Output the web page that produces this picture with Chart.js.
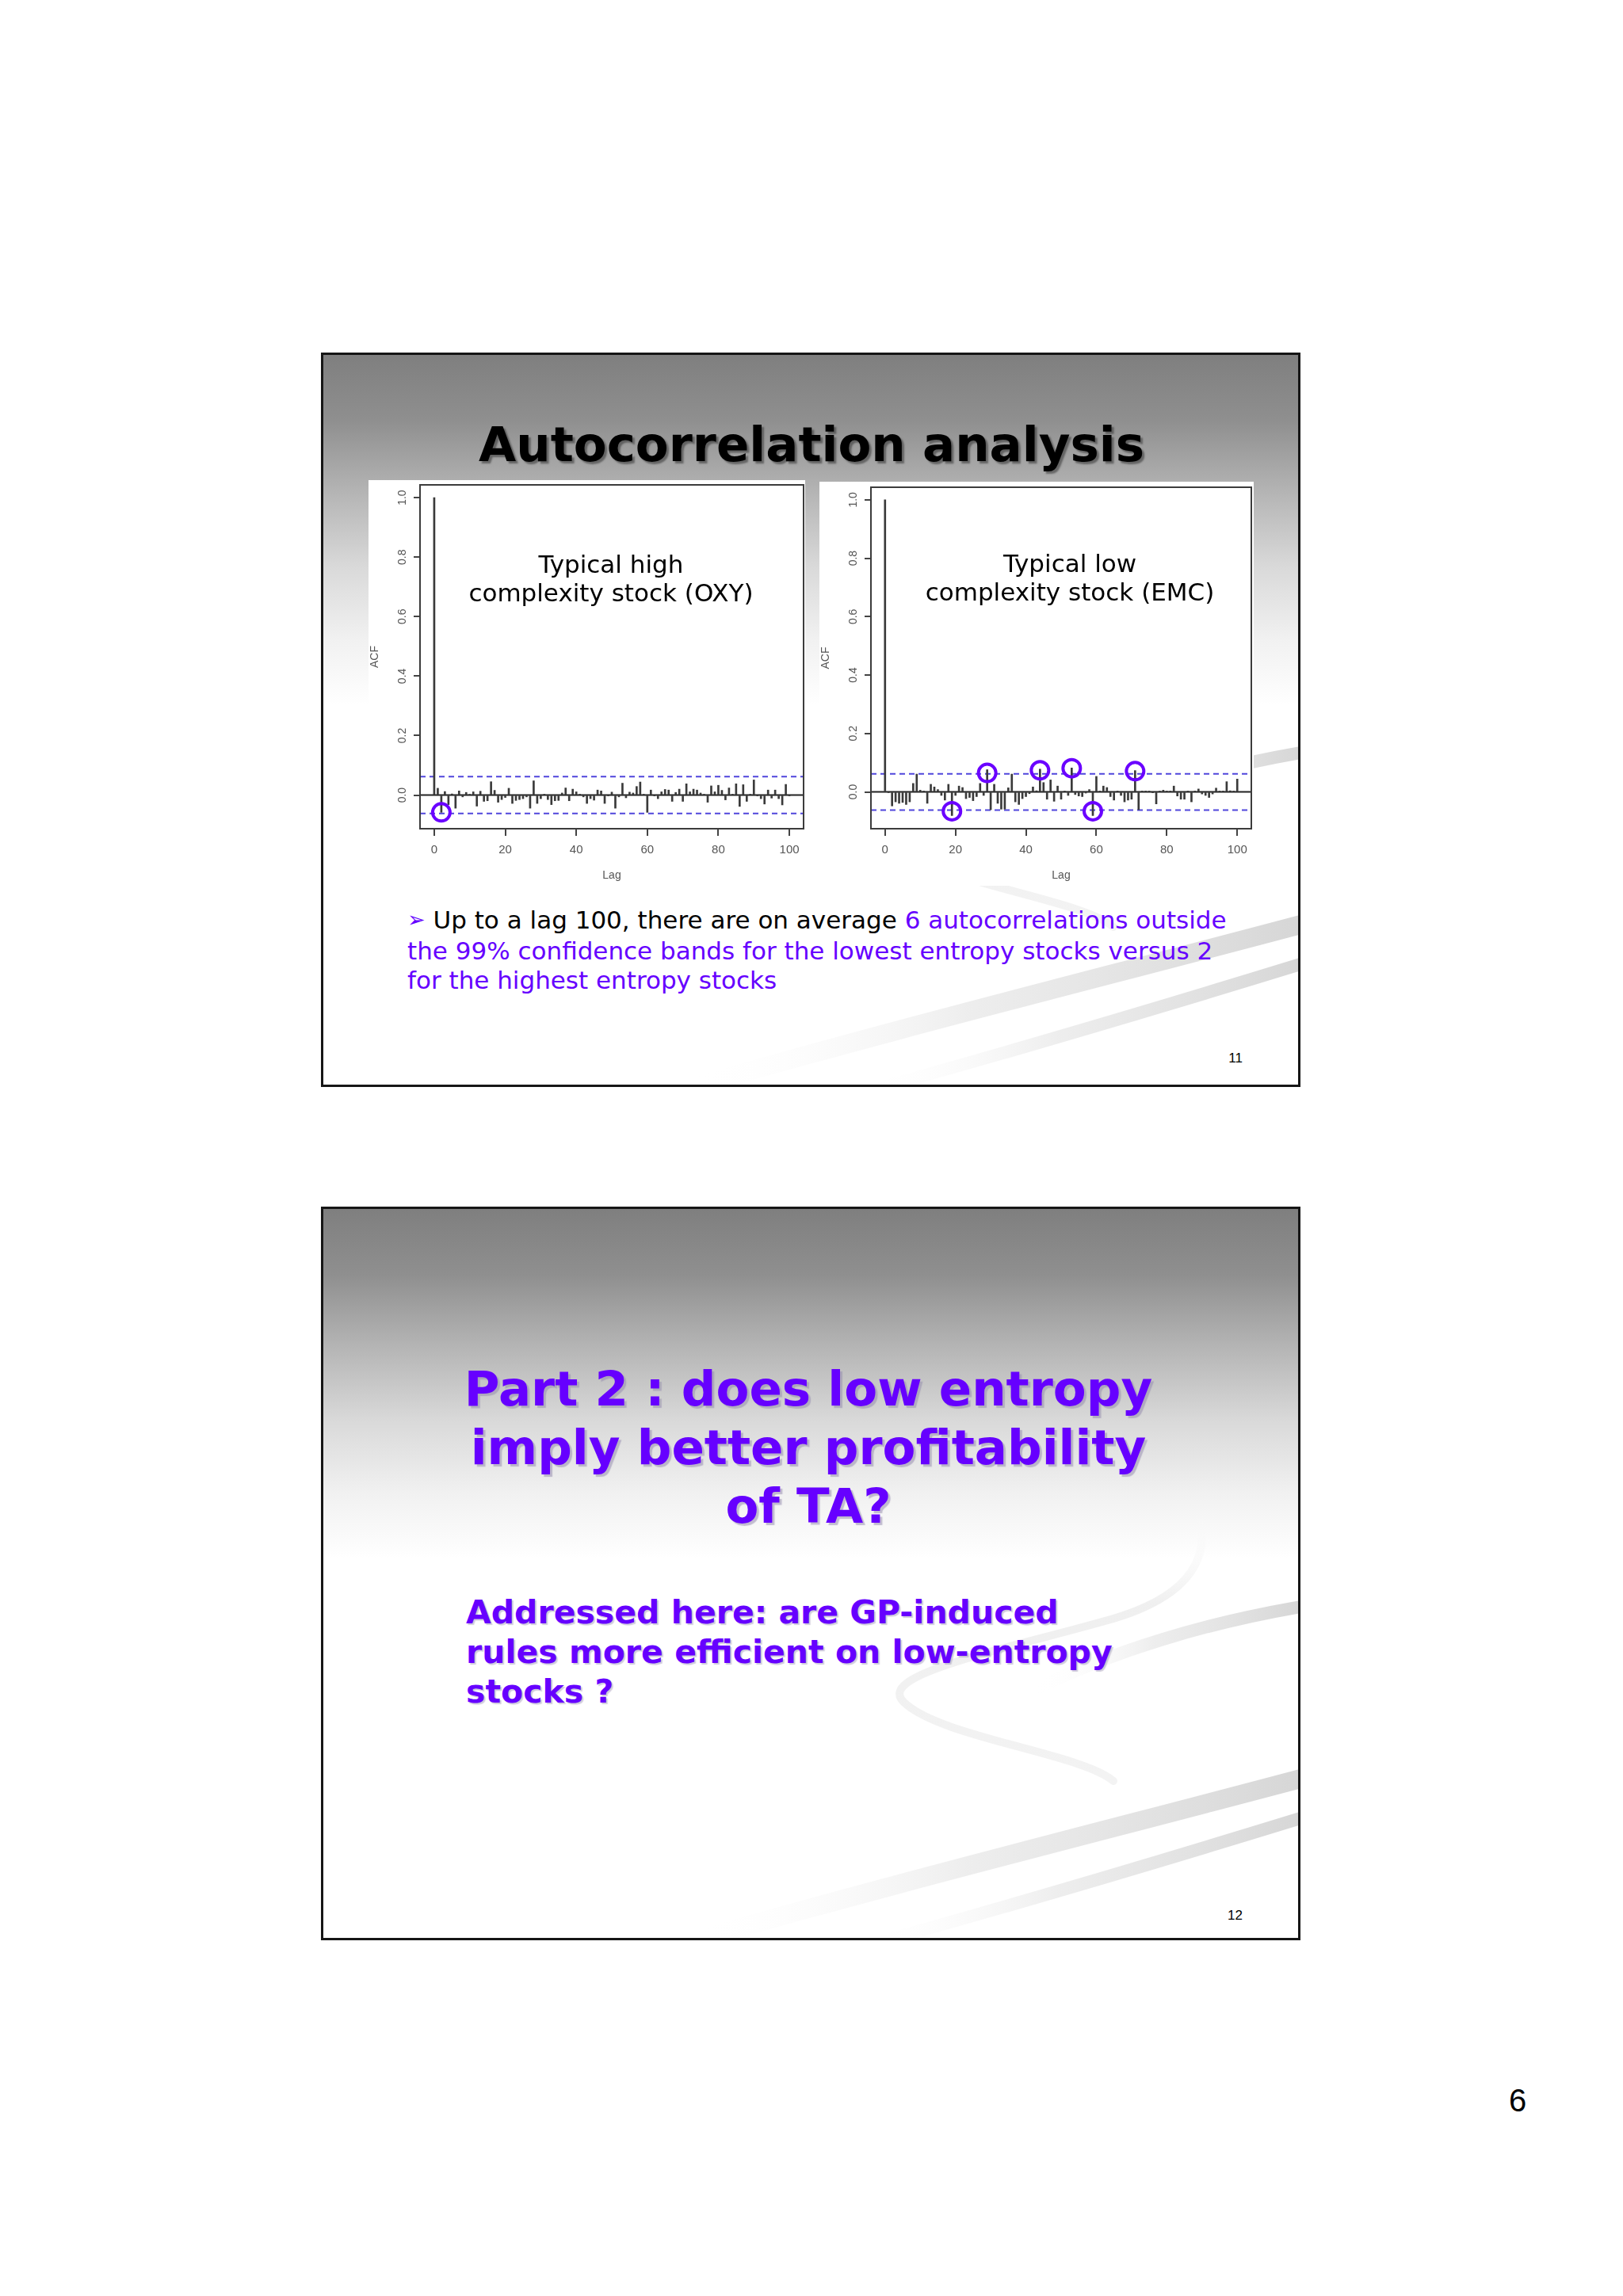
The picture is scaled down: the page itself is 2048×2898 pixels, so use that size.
<!DOCTYPE html>
<html><head><meta charset="utf-8">
<script src="https://cdn.jsdelivr.net/npm/chart.js@4/dist/chart.umd.min.js"></script>
<style>
html,body{margin:0;padding:0;background:#fff;}
body{width:2048px;height:2898px;position:relative;overflow:hidden;font-family:'DejaVu Sans',Verdana,sans-serif;}
.slide{position:absolute;left:405px;width:1236px;height:927px;box-sizing:border-box;border:3px solid #161616;overflow:hidden;
 background:linear-gradient(to bottom,#7f7f7f 0%,#8f8f8f 9%,#b5b5b5 19%,#d9d9d9 29%,#f1f1f1 39%,#ffffff 48%,#ffffff 100%);}
.sw{position:absolute;left:-3px;top:-3px;}
.t{position:absolute;white-space:nowrap;}
.cv{position:absolute;background:#fff;}
.purple{color:#6600ff;}
</style></head>
<body>
<div class="slide" id="s1" style="top:445px;"></div>
<div class="slide" id="s2" style="top:1523px;height:926px;"></div>

<div class="t" style="left:0;width:2048px;top:526px;text-align:center;font:bold 61px/70px 'DejaVu Sans';color:#000;text-shadow:3px 3px 2px rgba(50,50,50,0.55);">Autocorrelation analysis</div>

<canvas id="c1" class="cv" width="551" height="512" style="left:465px;top:606px;width:551px;height:512px;"></canvas>
<canvas id="c2" class="cv" width="548" height="510" style="left:1034px;top:608px;width:548px;height:510px;"></canvas>

<div class="t" style="left:571px;width:400px;top:694px;text-align:center;font:31px/36px 'DejaVu Sans';color:#000;">Typical high<br>complexity stock (OXY)</div>
<div class="t" style="left:1150px;width:400px;top:693px;text-align:center;font:31px/36px 'DejaVu Sans';color:#000;">Typical low<br>complexity stock (EMC)</div>

<div class="t" style="left:514px;top:1143px;font:31px/37.5px 'DejaVu Sans';color:#000;"><span class="purple" style="font-size:27px;position:relative;top:-2px;">&#x27A2;</span> Up to a lag 100, there are on average <span class="purple">6 autocorrelations outside</span><br><span class="purple">the 99% confidence bands for the lowest entropy stocks versus 2</span><br><span class="purple">for the highest entropy stocks</span></div>
<div class="t" style="left:1470px;width:98px;top:1326px;text-align:right;font:17px/20px 'Liberation Sans';color:#000;">11</div>

<div class="t purple" style="left:0;width:2040px;top:1716px;text-align:center;font:bold 61px/74px 'DejaVu Sans';text-shadow:3px 3px 1px rgba(150,140,175,0.55);">Part 2 : does low entropy<br>imply better profitability<br>of TA?</div>
<div class="t purple" style="left:588px;top:2010px;font:bold 41px/50px 'DejaVu Sans';text-shadow:2px 2px 1px rgba(150,140,175,0.45);">Addressed here: are GP-induced<br>rules more efficient on low-entropy<br>stocks ?</div>
<div class="t" style="left:1464px;width:104px;top:2408px;text-align:right;font:17px/20px 'Liberation Sans';color:#000;">12</div>

<div class="t" style="left:1880px;width:70px;top:2628px;text-align:center;font:40px/46px 'Liberation Sans';color:#000;">6</div>

<script>
// ---------- DATA ----------
const lagsLabel = 'Lag';
const acfLabel = 'ACF';
const xTicks = [0, 20, 40, 60, 80, 100];
const yTicks = [0.0, 0.2, 0.4, 0.6, 0.8, 1.0];

// Typical high complexity stock (OXY): ACF at lags 0..100
const oxyAcf = [1.0, 0.023, -0.058, 0.012, -0.032, 0.004, -0.044, 0.014, -0.006, 0.009,
 0.002, 0.011, -0.037, 0.013, -0.021, -0.019, 0.045, 0.016, -0.024, -0.015,
 -0.008, 0.023, -0.028, -0.018, -0.015, -0.012, -0.006, -0.044, 0.048, -0.028,
 -0.012, 0.003, -0.015, -0.032, -0.019, -0.018, 0.007, 0.024, -0.019, 0.020,
 0.011, 0.003, -0.006, -0.028, -0.012, -0.017, 0.017, 0.014, -0.028, -0.003,
 0.010, -0.044, -0.006, 0.040, -0.009, 0.010, 0.007, 0.029, 0.044, 0.002,
 -0.058, 0.017, -0.003, -0.012, 0.011, 0.019, 0.017, -0.021, 0.009, 0.020,
 -0.021, 0.038, 0.011, 0.020, 0.017, 0.007, 0.002, -0.024, 0.031, 0.011,
 0.033, 0.016, -0.016, 0.024, 0.003, 0.038, -0.038, 0.035, -0.021, 0.002,
 0.051, -0.003, -0.012, -0.030, 0.017, -0.010, 0.017, -0.012, -0.033, 0.036,
 -0.003];
const oxyCi = 0.062;
const oxyOutLags = [2];
const oxyOutVals = [-0.058];

// Typical low complexity stock (EMC): ACF at lags 0..100
const emcAcf = [1.0, -0.003, -0.048, -0.034, -0.039, -0.036, -0.043, -0.034, 0.029, 0.061,
 0.006, 0.003, -0.039, 0.026, 0.017, 0.008, -0.012, -0.028, 0.026, -0.081,
 -0.012, 0.020, 0.015, -0.023, -0.019, -0.030, -0.016, 0.029, -0.012, 0.076,
 -0.061, 0.026, -0.039, -0.059, -0.059, 0.014, 0.061, -0.034, -0.043, -0.023,
 -0.016, -0.006, 0.017, 0.004, 0.078, 0.032, -0.025, 0.041, -0.032, 0.020,
 -0.025, 0.003, -0.012, 0.082, -0.009, -0.014, -0.016, -0.004, 0.008, -0.081,
 0.053, 0.003, 0.020, 0.015, -0.016, -0.028, 0.002, -0.012, -0.034, -0.028,
 -0.025, 0.073, -0.061, 0.002, 0.002, 0.003, -0.002, -0.041, 0.002, 0.006,
 0.002, 0.003, 0.020, -0.014, -0.025, -0.025, 0.003, -0.034, 0.003, 0.010,
 -0.007, -0.012, -0.019, -0.007, 0.013, 0.003, 0.003, 0.035, 0.004, 0.002,
 0.044];
const emcCi = 0.062;
const emcOutLags = [19, 29, 44, 53, 59, 71];
const emcOutVals = [-0.066, 0.065, 0.074, 0.081, -0.066, 0.071];

// ---------- DECOR (slide master swooshes) ----------
function swooshSvg(id){
  return `<svg class="sw" width="1236" height="927" viewBox="0 0 1236 927">
  <defs>
   <linearGradient id="ga${id}" x1="0" x2="1" y1="0" y2="0"><stop offset="0" stop-color="#ffffff" stop-opacity="0"/><stop offset="0.45" stop-color="#dcdcdc" stop-opacity="0.5"/><stop offset="1" stop-color="#cccccc" stop-opacity="0.8"/></linearGradient>
   <linearGradient id="gb${id}" x1="0" x2="0" y1="0" y2="1"><stop offset="0" stop-color="#ffffff" stop-opacity="0"/><stop offset="0.35" stop-color="#e0e0e0" stop-opacity="0.5"/><stop offset="1" stop-color="#dddddd" stop-opacity="0.35"/></linearGradient>
  </defs>
  <path d="M 1106 380 C 1125 440, 1100 490, 1000 520 C 860 560, 700 590, 735 625 C 780 670, 960 690, 1000 725" stroke="url(#gb${id})" stroke-width="10" fill="none" stroke-linecap="round"/>
  <path d="M 1236 505 C 1120 525, 1000 560, 900 610" stroke="url(#ga${id})" stroke-width="16" fill="none"/>
  <path d="M 470 927 C 700 860, 980 790, 1236 722" stroke="url(#ga${id})" stroke-width="24" fill="none"/>
  <path d="M 680 935 C 880 880, 1080 820, 1236 772" stroke="url(#ga${id})" stroke-width="16" fill="none"/>
  </svg>`;
}
document.getElementById('s1').innerHTML = swooshSvg('1');
document.getElementById('s2').innerHTML = swooshSvg('2');

// ---------- CHARTS ----------
const X_MIN = -4, X_MAX = 104;

const axisDecor = {
  id: 'axisDecor',
  afterDraw(chart) {
    const { ctx, chartArea: a, scales: { y } } = chart;
    ctx.save();
    ctx.strokeStyle = '#3c3c3c';
    ctx.lineWidth = 2;
    ctx.strokeRect(a.left, a.top, a.right - a.left, a.bottom - a.top);
    ctx.fillStyle = '#555';
    ctx.font = '14px "Liberation Sans", Arial, sans-serif';
    ctx.textAlign = 'center';
    ctx.textBaseline = 'middle';
    yTicks.forEach(v => {
      const py = y.getPixelForValue(v);
      ctx.save();
      ctx.translate(a.left - 22, py);
      ctx.rotate(-Math.PI / 2);
      ctx.fillText(v.toFixed(1), 0, 0);
      ctx.restore();
    });
    ctx.save();
    ctx.translate(a.left - 57, (a.top + a.bottom) / 2);
    ctx.rotate(-Math.PI / 2);
    ctx.fillText(acfLabel, 0, 0);
    ctx.restore();
    ctx.fillText(lagsLabel, (a.left + a.right) / 2, a.bottom + 59);
    ctx.restore();
  }
};

function zeroPad(s) { s.paddingLeft = 0; s.paddingRight = 0; s.paddingTop = 0; s.paddingBottom = 0; }

function makeAcfChart(canvasId, acf, ci, outLags, outVals, yMin, yMax, pad) {
  const bars = acf.map((v, i) => ({ x: i, y: v }));
  const circles = outLags.map((l, i) => ({ x: l, y: outVals[i] }));
  return new Chart(document.getElementById(canvasId), {
    type: 'bar',
    data: {
      datasets: [
        { type: 'line', data: [{ x: X_MIN, y: 0 }, { x: X_MAX, y: 0 }], borderColor: '#222', borderWidth: 2, pointRadius: 0, order: 4 },
        { type: 'line', data: [{ x: X_MIN, y: ci }, { x: X_MAX, y: ci }], borderColor: '#5046dc', borderWidth: 2, borderDash: [7, 5], pointRadius: 0, order: 3 },
        { type: 'line', data: [{ x: X_MIN, y: -ci }, { x: X_MAX, y: -ci }], borderColor: '#5046dc', borderWidth: 2, borderDash: [7, 5], pointRadius: 0, order: 3 },
        { type: 'bar', data: bars, backgroundColor: '#3a3a3a', borderWidth: 0, barThickness: 2, order: 2 },
        { type: 'scatter', data: circles, pointRadius: 11, pointBorderWidth: 4, borderColor: '#6a00ff', pointBorderColor: '#6a00ff', pointBackgroundColor: 'rgba(0,0,0,0)', backgroundColor: 'rgba(0,0,0,0)', clip: false, order: 0 }
      ]
    },
    options: {
      responsive: false,
      devicePixelRatio: 1,
      animation: false,
      layout: { padding: pad, autoPadding: false },
      plugins: { legend: { display: false }, tooltip: { enabled: false } },
      scales: {
        x: {
          type: 'linear', min: X_MIN, max: X_MAX, offset: false,
          afterBuildTicks: s => { s.ticks = xTicks.map(v => ({ value: v })); },
          afterFit: s => { s.height = 72; zeroPad(s); },
          grid: { offset: false, drawOnChartArea: false, drawTicks: true, tickLength: 9, color: '#444', lineWidth: 2 },
          border: { display: false },
          ticks: { color: '#555', font: { family: 'Liberation Sans', size: 15 }, padding: 9, maxRotation: 0, autoSkip: false, callback: v => String(v) }
        },
        y: {
          type: 'linear', min: yMin, max: yMax,
          afterBuildTicks: s => { s.ticks = yTicks.map(v => ({ value: v })); },
          afterFit: s => { s.width = 65; zeroPad(s); },
          grid: { drawOnChartArea: false, drawTicks: true, tickLength: 8, color: '#444', lineWidth: 2 },
          border: { display: false },
          ticks: { display: false }
        }
      }
    },
    plugins: [axisDecor]
  });
}

makeAcfChart('c1', oxyAcf, oxyCi, oxyOutLags, oxyOutVals, -0.113, 1.043, { top: 6, right: 2, left: 0, bottom: 0 });
makeAcfChart('c2', emcAcf, emcCi, emcOutLags, emcOutVals, -0.126, 1.043, { top: 7, right: 3, left: 0, bottom: 0 });
</script>
</body></html>
